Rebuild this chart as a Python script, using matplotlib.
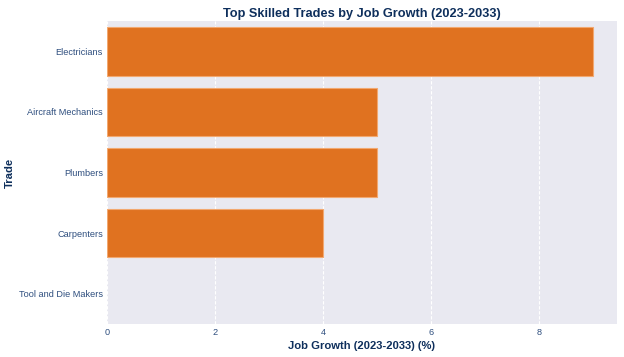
import matplotlib.pyplot as plt

trades = ['Electricians', 'Aircraft Mechanics', 'Plumbers', 'Carpenters', 'Tool and Die Makers']
growth = [9, 5, 5, 4, 0]

plt.rcParams['font.family'] = ['Liberation Sans', 'DejaVu Sans']

fig = plt.figure(figsize=(6.24, 3.57), dpi=100)
ax = fig.add_axes([107/624, 1 - 324/357, (617 - 107)/624, (324 - 21)/357])
ax.set_facecolor('#E9E9F1')

ypos = list(range(len(trades)))
edges = ['#F2A870' if g > 0 else 'none' for g in growth]
ax.barh(ypos, growth, height=0.8, color='#E07220', edgecolor=edges, linewidth=0.8, zorder=3)

ax.set_yticks(ypos)
ax.set_yticklabels(trades)
ax.set_ylim(len(trades) - 0.5, -0.5)
ax.set_xlim(0, 9.44)
ax.set_xticks([0, 2, 4, 6, 8])

ax.grid(axis='x', color='white', linewidth=0.8, linestyle=(0, (3, 1.5)), zorder=0)
ax.grid(axis='y', visible=False)
for s in ax.spines.values():
    s.set_visible(False)
ax.tick_params(length=0, labelsize=6.6, colors='#2E4E7E', pad=3)

ax.set_title('Top Skilled Trades by Job Growth (2023-2033)', fontsize=9.2,
             fontweight='bold', color='#0E2F5C', pad=3)
ax.set_xlabel('Job Growth (2023-2033) (%)', fontsize=8.1, fontweight='bold', color='#0E2F5C', labelpad=3)
ax.set_ylabel('Trade', fontsize=8.1, fontweight='bold', color='#0E2F5C', labelpad=10)
ax.yaxis.set_label_coords(-92/510, 0.5)

fig.savefig('out.png', dpi=100, facecolor='white')
